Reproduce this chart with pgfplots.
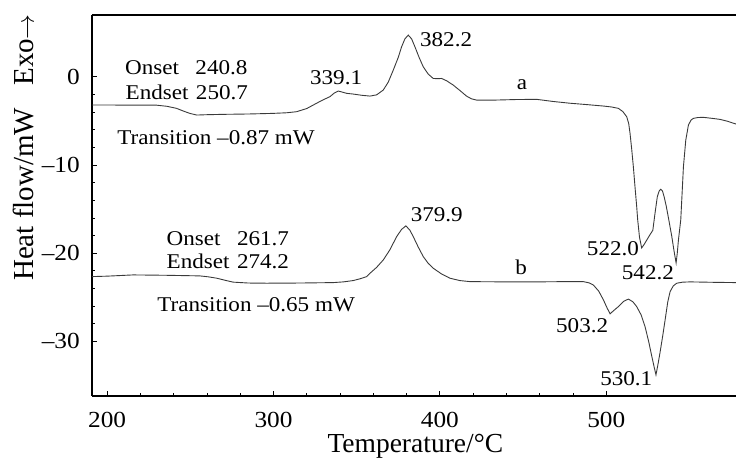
\documentclass[border=0pt]{standalone}
\usepackage{fontspec}
\setmainfont{Liberation Serif}
\newfontfamily\stretchfont[FakeStretch=1.1]{Liberation Serif}
\usepackage{pgfplots}
\pgfplotsset{compat=1.18}
\definecolor{curve}{HTML}{3A3A3A}

\pgfplotstableread{
T y
190.9 -3.20
200.0 -3.20
215.0 -3.22
229.7 -3.22
236.0 -3.35
241.7 -3.58
246.0 -3.90
249.7 -4.15
253.8 -4.34
260.0 -4.30
269.8 -4.26
285.0 -4.22
299.8 -4.15
308.0 -4.08
313.9 -3.96
320.0 -3.60
325.9 -3.00
330.0 -2.60
333.9 -2.26
336.5 -1.85
338.9 -1.62
341.0 -1.72
344.0 -1.88
347.9 -1.96
353.0 -2.10
358.0 -2.19
362.0 -2.05
366.0 -1.50
369.0 -0.60
372.0  0.76
375.0  2.20
377.0  3.40
379.0  4.30
381.0  4.72
383.0  4.30
385.0  3.40
387.5  2.20
390.0  1.13
393.0  0.30
396.0 -0.19
398.5 -0.22
401.0 -0.19
404.0 -0.45
408.0 -0.94
412.0 -1.55
416.0 -2.19
419.0 -2.50
422.0 -2.64
434.0 -2.64
446.0 -2.58
458.2 -2.56
468.0 -2.80
478.2 -3.00
488.0 -3.15
498.3 -3.32
503.0 -3.42
507.3 -3.58
510.0 -3.95
512.3 -4.53
513.5 -5.30
514.3 -6.40
515.3 -8.20
516.3 -10.20
517.3 -12.50
518.3 -14.70
518.9 -16.20
520.0 -18.20
521.3 -19.40
522.8 -19.00
524.4 -18.50
526.3 -17.90
528.0 -17.40
529.3 -15.50
530.7 -13.60
531.8 -12.95
532.8 -12.75
533.8 -12.95
534.8 -13.60
536.0 -14.60
537.3 -15.90
539.4 -18.10
540.8 -19.80
542.0 -21.10
542.7 -20.00
543.4 -18.50
544.8 -16.20
545.6 -13.20
546.4 -10.20
547.8 -7.20
549.4 -5.47
551.0 -4.90
552.4 -4.72
555.0 -4.62
558.4 -4.60
563.0 -4.70
568.4 -4.83
573.0 -5.05
578.0 -5.36
}\curvea

\pgfplotstableread{
T y
190.9 -22.65
200.0 -22.60
215.6 -22.46
235.0 -22.50
255.7 -22.57
261.0 -22.68
265.8 -22.83
270.5 -23.05
275.8 -23.28
285.0 -23.38
295.8 -23.40
315.0 -23.38
335.9 -23.33
342.0 -23.25
347.9 -23.10
352.0 -22.90
356.0 -22.65
358.0 -22.27
362.0 -21.60
366.0 -20.76
370.0 -19.60
374.0 -18.12
377.0 -17.30
379.6 -16.90
382.0 -17.40
384.0 -18.12
387.0 -19.30
390.0 -20.38
393.0 -21.15
396.0 -21.70
401.0 -22.35
406.0 -22.83
412.0 -23.10
418.1 -23.22
440.0 -23.25
458.2 -23.25
475.0 -23.22
486.2 -23.22
489.5 -23.35
492.2 -23.59
495.5 -24.30
498.3 -25.29
500.5 -26.20
502.3 -26.87
504.5 -26.50
507.3 -26.05
510.5 -25.45
513.3 -25.20
516.0 -25.50
518.3 -26.05
521.0 -27.00
523.3 -28.30
525.5 -30.00
527.4 -31.70
528.8 -32.90
529.9 -33.78
531.0 -32.70
532.3 -31.30
534.0 -29.30
535.4 -27.55
537.0 -25.50
538.4 -24.35
540.3 -23.70
542.4 -23.40
546.0 -23.28
550.4 -23.25
565.0 -23.30
578.0 -23.33
}\curveb

\begin{document}
\begin{tikzpicture}
\begin{axis}[
  at={(0,0)}, anchor=south west,
  width=644pt, height=380.7pt, scale only axis,
  xmin=190.9, xmax=578, ymin=-36.15, ymax=7.0,
  axis y line*=left, axis x line*=box,
  axis line style={line width=1.6pt, -, black},
  xtick={200,300,400,500}, xticklabels={200,300,400,500},
  ytick={-30,-20,-10,0}, yticklabels={–30,–20,–10,0},
  minor x tick num=4, minor y tick num=4,
  xtick pos=left, ytick pos=left,
  tick align=inside,
  major tick length=5pt, minor tick length=3pt,
  every tick/.style={black, line width=0.8pt},
  xticklabel style={font=\stretchfont\fontsize{23}{23}\selectfont, anchor=base, inner sep=0pt, yshift=-31.6pt},
  yticklabel style={font=\stretchfont\fontsize{23}{23}\selectfont, anchor=east, inner sep=0pt, xshift=-12pt},
  xlabel={Temperature/°C},
  xlabel style={at={(rel axis cs:0.502,0)}, anchor=base, inner sep=0pt, yshift=-56.5pt, font=\fontsize{27.5}{27.5}\selectfont},
  ylabel={Heat flow/mW\hspace{22pt}Exo$\rightarrow$},
  ylabel style={at={(rel axis cs:-0.1056,0.652)}, anchor=center, rotate=0, font=\fontsize{29}{29}\selectfont},
  clip=false,
]
\addplot[curve, line width=0.9pt, no marks] table[x=T, y=y] {\curvea};
\addplot[curve, line width=0.9pt, no marks] table[x=T, y=y] {\curveb};

\begin{scope}[every node/.style={font=\stretchfont\fontsize{21}{21}\selectfont, inner sep=0pt, anchor=base west}]
\node at (axis cs:210.7,0.31) {\makebox[3.35em][l]{Onset}240.8};
\node at (axis cs:211.0,-2.53) {\makebox[3.35em][l]{Endset}250.7};
\node at (axis cs:206.0,-7.73) {Transition –0.87 mW};
\node at (axis cs:321.9,-0.83) {339.1};
\node at (axis cs:388.0,3.40) {382.2};
\node at (axis cs:446.2,-1.43) {a};
\node at (axis cs:235.7,-19.07) {\makebox[3.35em][l]{Onset}261.7};
\node at (axis cs:235.7,-21.78) {\makebox[3.35em][l]{Endset}274.2};
\node at (axis cs:230.1,-26.60) {Transition –0.65 mW};
\node at (axis cs:382.4,-16.42) {379.9};
\node at (axis cs:445.2,-22.38) {b};
\node at (axis cs:488.3,-20.31) {522.0};
\node at (axis cs:509.3,-23.02) {542.2};
\node at (axis cs:469.8,-28.99) {503.2};
\node at (axis cs:496.3,-35.00) {530.1};
\end{scope}
\end{axis}
\pgfresetboundingbox
\useasboundingbox (-92pt,-62.3pt) rectangle (644pt,395.7pt);
\end{tikzpicture}
\end{document}
